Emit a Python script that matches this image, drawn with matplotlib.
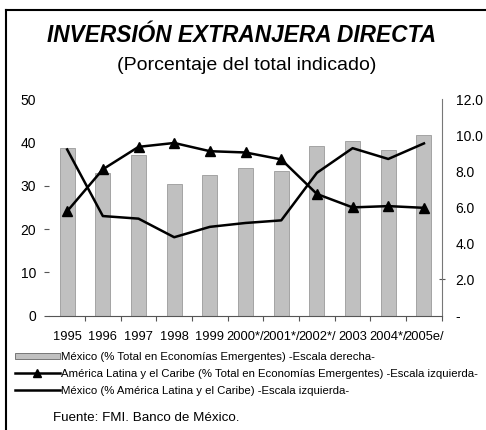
import numpy as np
import matplotlib
matplotlib.use("Agg")
import matplotlib.pyplot as plt
from matplotlib.patches import Patch
from matplotlib.lines import Line2D

plt.rcParams['font.family'] = ['Liberation Sans', 'DejaVu Sans']

# data
years = ['1995', '1996', '1997', '1998', '1999', '2000*/', '2001*/',
         '2002*/', '2003', '2004*/', '2005e/']
mex_emergentes = [9.3, 7.9, 8.9, 7.3, 7.8, 8.2, 8.0, 9.4, 9.7, 9.2, 10.0]   # right scale
al_emergentes = [24.1, 33.8, 39.0, 39.9, 38.0, 37.7, 36.1, 28.1, 25.0, 25.3, 24.9]  # left scale
mex_al = [38.4, 23.0, 22.4, 18.1, 20.5, 21.4, 22.0, 33.0, 38.7, 36.2, 39.8]  # left scale

left_ticks = [0, 10, 20, 30, 40, 50]
right_ticks = [0, 2, 4, 6, 8, 10, 12]
right_labels = ['-', '2.0', '4.0', '6.0', '8.0', '10.0', '12.0']

label_bar = 'México (% Total en Economías Emergentes) -Escala derecha-'
label_tri = 'América Latina y el Caribe (% Total en Economías Emergentes) -Escala izquierda-'
label_line = 'México (% América Latina y el Caribe) -Escala izquierda-'

fig = plt.figure(figsize=(4.86, 4.30), dpi=100)
ax = fig.add_axes([49.3 / 486, 1 - 315.5 / 430, (441.8 - 49.3) / 486, (315.5 - 99.3) / 430])
ax2 = ax.twinx()
ax.set_zorder(ax2.get_zorder() + 1)
ax.patch.set_visible(False)

x = np.arange(len(years))
bar_color = '#c0c0c0'
ax2.bar(x, mex_emergentes, width=0.42, color=bar_color, edgecolor='#8c8c8c', linewidth=0.5)
ax.plot(x, al_emergentes, color='black', lw=1.8, marker='^', markersize=7.5)
ax.plot(x, mex_al, color='black', lw=1.8)

ax.set_xlim(-0.5, 10.5)
ax.set_ylim(0, 50)
ax2.set_ylim(0, 12)

for a in (ax, ax2):
    for s in ('top', 'left', 'right'):
        a.spines[s].set_visible(False)
ax2.spines['bottom'].set_visible(False)
ax.spines['bottom'].set_color('#555555')
ax.spines['bottom'].set_linewidth(0.8)
ax2.spines['right'].set_visible(True)
ax2.spines['right'].set_color('#777777')
ax2.spines['right'].set_linewidth(0.8)

ax.set_xticks(x)
ax.set_xticklabels(years, fontsize=9.3)
ax.tick_params(axis='x', which='major', length=0, pad=11)
ax.set_xticks(np.arange(0.5, 10.6, 1), minor=True)
ax.tick_params(axis='x', which='minor', length=3.5, width=0.8, color='#555555', direction='out')

ax.set_yticks(left_ticks)
ax.set_yticklabels([str(t) for t in left_ticks], fontsize=10)
ax.tick_params(axis='y', length=3.5, width=0.8, color='#555555', pad=6)
for t in ax.yaxis.get_major_ticks()[4:]:
    t.tick1line.set_visible(False)

ax2.set_yticks(right_ticks)
ax2.set_yticklabels(right_labels, fontsize=10)
ax2.tick_params(axis='y', length=4, width=0.8, color='#555555', direction='inout', pad=8)
for i, t in enumerate(ax2.yaxis.get_major_ticks()):
    if i != 1:
        t.tick2line.set_visible(False)

fig.text(242 / 486, 1 - 36 / 430, 'INVERSIÓN EXTRANJERA DIRECTA', ha='center', va='center',
         fontsize=16.3, fontweight='bold', fontstyle='italic')
fig.text(247 / 486, 1 - 66 / 430, '(Porcentaje del total indicado)', ha='center', va='center',
         fontsize=14)

handles = [Patch(facecolor=bar_color, edgecolor='#666666', linewidth=0.6),
           Line2D([], [], color='black', lw=1.8, marker='^', markersize=6),
           Line2D([], [], color='black', lw=1.8)]
fig.legend(handles, [label_bar, label_tri, label_line], loc='upper left',
           bbox_to_anchor=(15 / 486, 1 - 352 / 430), frameon=False, fontsize=8.2,
           borderaxespad=0, borderpad=0, handlelength=3.95, handleheight=0.55,
           handletextpad=0.1, labelspacing=0.62, numpoints=1)

fig.text(53 / 486, 1 - 418 / 430, 'Fuente: FMI. Banco de México.', ha='left', va='center', fontsize=9.6)

# outer frame (left and top only, as in the reference)
fig.add_artist(Line2D([6 / 486, 6 / 486], [0, 1 - 10 / 430], color='black', lw=1.5,
                      transform=fig.transFigure))
fig.add_artist(Line2D([6 / 486, 1], [1 - 10 / 430, 1 - 10 / 430], color='black', lw=1.5,
                      transform=fig.transFigure))

fig.savefig('out.png', dpi=100)
